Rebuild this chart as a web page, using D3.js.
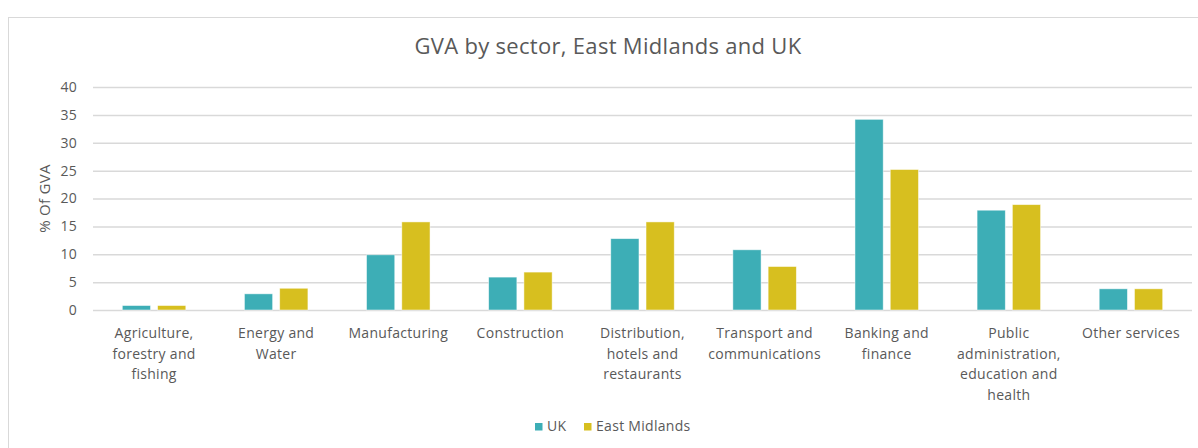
<!DOCTYPE html>
<html>
<head>
<meta charset="utf-8">
<script src="https://cdn.jsdelivr.net/npm/d3@7"></script>
<style>
  html, body { margin: 0; padding: 0; background: #fff; }
  svg { display: block; }
  text { font-family: "Open Sans", Lato, sans-serif; fill: #595959; letter-spacing: 0.3px; }
</style>
</head>
<body>
<svg id="chart" width="1198" height="448"></svg>
<script>
const categories = [
  ["Agriculture,", "forestry and", "fishing"],
  ["Energy and", "Water"],
  ["Manufacturing"],
  ["Construction"],
  ["Distribution,", "hotels and", "restaurants"],
  ["Transport and", "communications"],
  ["Banking and", "finance"],
  ["Public", "administration,", "education and", "health"],
  ["Other services"]
];
const seriesNames = ["UK", "East Midlands"];
const ukValues = [0.8, 2.9, 9.9, 5.9, 12.8, 10.8, 34.2, 17.9, 3.8];
const emValues = [0.8, 3.9, 15.8, 6.8, 15.8, 7.8, 25.2, 18.9, 3.8];
const yTicks = [0, 5, 10, 15, 20, 25, 30, 35, 40];
const colors = ["#3DAEB6", "#D7BF1F"];
const title = "GVA by sector, East Midlands and UK";
const yTitle = "% Of GVA";

const svg = d3.select("#chart");
const W = 1198, H = 448;
const m = { left: 93, right: 6, top: 87, bottom: 138 };
const FONT = "'Open Sans', Lato, sans-serif";

// outer frame
svg.append("rect").attr("x", 8.5).attr("y", 17.5).attr("width", W + 20).attr("height", H)
  .attr("fill", "#fff").attr("stroke", "#d9d9d9").attr("stroke-width", 1);

const idx = d3.range(categories.length);
const x0 = d3.scaleBand().domain(idx).range([m.left, W - m.right]).paddingInner(0.48).paddingOuter(0.24);
const x1 = d3.scaleBand().domain(seriesNames).range([0, x0.bandwidth()]).paddingInner(0.2);
const y = d3.scaleLinear().domain([0, 40]).range([H - m.bottom, m.top]);

// gridlines
const yAxis = d3.axisLeft(y).tickValues(yTicks).tickSize(-(W - m.right - m.left)).tickPadding(16);
const gy = svg.append("g").attr("transform", `translate(${m.left},0)`).call(yAxis);
gy.select(".domain").remove();
gy.selectAll(".tick line").attr("stroke", "#d9d9d9").attr("stroke-width", 1.5);
gy.selectAll(".tick text").attr("font-size", 14).attr("fill", "#595959")
  .style("font-family", FONT);

// bars
const data = idx.map(i => [
  { s: "UK", v: ukValues[i], c: colors[0] },
  { s: "East Midlands", v: emValues[i], c: colors[1] }
]);
const groups = svg.append("g").selectAll("g").data(data).join("g")
  .attr("transform", (d, i) => `translate(${x0(i)},0)`);
groups.selectAll("rect").data(d => d).join("rect")
  .attr("x", d => x1(d.s))
  .attr("y", d => y(d.v))
  .attr("width", x1.bandwidth())
  .attr("height", d => y(0) - y(d.v))
  .attr("fill", d => d.c)
  .attr("stroke", "#fff").attr("stroke-opacity", 0.6).attr("stroke-width", 0.8);

// category labels
const labels = svg.append("g").selectAll("text").data(categories).join("text")
  .attr("text-anchor", "middle")
  .attr("font-size", 14)
  .attr("x", (d, i) => x0(i) + x0.bandwidth() / 2)
  .attr("y", 338);
labels.selectAll("tspan").data(d => d).join("tspan")
  .attr("x", function() { return d3.select(this.parentNode).attr("x"); })
  .attr("dy", (d, i) => i === 0 ? 0 : 20.5)
  .text(d => d);

// title
svg.append("text").attr("x", 608).attr("y", 54).attr("text-anchor", "middle")
  .attr("font-size", 22).text(title);

// y title
svg.append("text").attr("transform", `translate(50,${(y(0) + y(40)) / 2}) rotate(-90)`)
  .attr("text-anchor", "middle").attr("font-size", 15).text(yTitle);

// legend
const legend = svg.append("g").attr("transform", "translate(535,430)");
const legX = [0, 49];
seriesNames.forEach((s, i) => {
  legend.append("rect").attr("x", legX[i]).attr("y", -7).attr("width", 7.5).attr("height", 7.5).attr("fill", colors[i]);
  legend.append("text").attr("x", legX[i] + 12).attr("y", 1).attr("font-size", 14).text(s);
});
</script>
</body>
</html>
